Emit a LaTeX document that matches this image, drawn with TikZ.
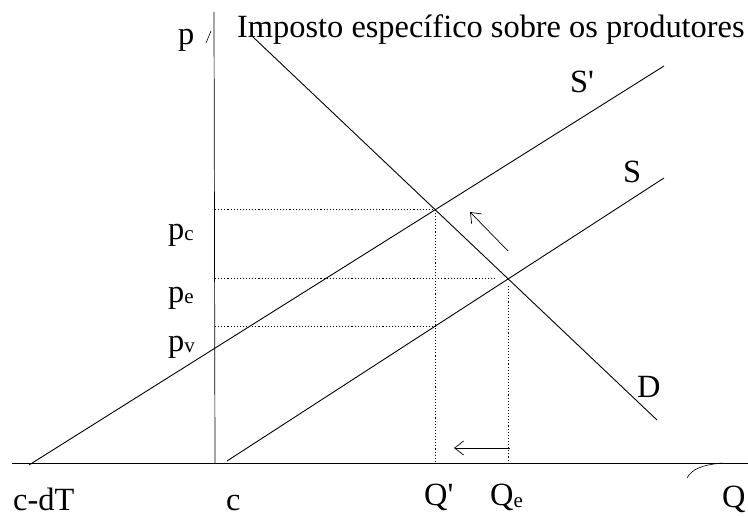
\documentclass[tikz,border=0pt]{standalone}
\usepackage{fontspec}
\setmainfont{Liberation Serif}
\usetikzlibrary{arrows.meta}
\begin{document}
\begin{tikzpicture}[x=1pt,y=1pt,
  curve/.style={line width=0.9pt},
  guide/.style={dotted,line width=1.1pt},
  lbl/.style={anchor=base west,inner sep=0pt,font=\fontsize{32.4}{36}\selectfont},
  shiftarrow/.style={line width=0.7pt,-{Straight Barb[length=9pt,width=14pt,line width=0.7pt]}}]
\useasboundingbox (0,0) rectangle (748,517);
% axes
\coordinate (ax0) at (12,54);
\coordinate (ax1) at (748,54);
\coordinate (vy0) at (215,54);
\coordinate (vy1) at (214,505);
\draw[line width=0.9pt] (ax0) -- (ax1);
\draw[line width=0.7pt] (vy0) -- (vy1);
\draw[line width=0.6pt] (206,474) -- (211,486);
\draw[line width=0.6pt] (687,39) .. controls (692,48) and (702,52) .. (722,54);
% curves
\coordinate (sp1) at (29,52);
\coordinate (sp2) at (664,451);
\coordinate (s1) at (227,56);
\coordinate (s2) at (664,339);
\coordinate (d1) at (253,480);
\coordinate (d2) at (657,97);
\draw[curve] (sp1) -- (sp2);
\draw[curve] (s1) -- (s2);
\draw[curve] (d1) -- (d2);
% intersections
\coordinate (C) at (intersection of sp1--sp2 and d1--d2);
\coordinate (E) at (intersection of s1--s2 and d1--d2);
\coordinate (Cb) at (C |- ax0);
\coordinate (V) at (intersection of s1--s2 and C--Cb);
\coordinate (Eb) at (E |- ax0);
\coordinate (Et) at ([yshift=-7pt]E);
\coordinate (Ew) at ([xshift=-12pt]E);
% guides
\draw[guide] (C -| vy0) -- (C);
\draw[guide] (C) -- (Cb);
\draw[guide] (E -| vy0) -- (Ew);
\draw[guide] (Et) -- (Eb);
\draw[guide] (V -| vy0) -- (V);
% shift arrows
\coordinate (a1) at (508,266);
\coordinate (a2) at (470,305);
\draw[shiftarrow] (a1) -- (a2);
\coordinate (b1) at (510,69);
\coordinate (b2) at (454,69);
\draw[shiftarrow] (b1) -- (b2);
% labels
\node[lbl] (lp) at (178,472) {p};
\node[lbl] (title) at (237,479) {Imposto específico sobre os produtores};
\node[lbl] (lpc) at (168,277) {p\raisebox{-1pt}{\fontsize{21}{21}\selectfont c}};
\node[lbl] (lpe) at (168,214) {p\raisebox{-1pt}{\fontsize{21}{21}\selectfont e}};
\node[lbl] (lpv) at (168,165) {p\raisebox{-1pt}{\fontsize{21}{21}\selectfont v}};
\node[lbl] (lsp) at (570,424) {S\textquotesingle};
\node[lbl] (ls) at (623,334) {S};
\node[lbl] (ld) at (637,119) {D};
\node[lbl] (lcdt) at (13,6) {c-dT};
\node[lbl] (lc) at (226,6) {c};
\node[lbl] (lqp) at (424,11) {Q\textquotesingle};
\node[lbl] (lqe) at (490,11) {Q\raisebox{-2pt}{\fontsize{21}{21}\selectfont e}};
\node[lbl] (lq) at (722,9) {Q};
\end{tikzpicture}
\end{document}
